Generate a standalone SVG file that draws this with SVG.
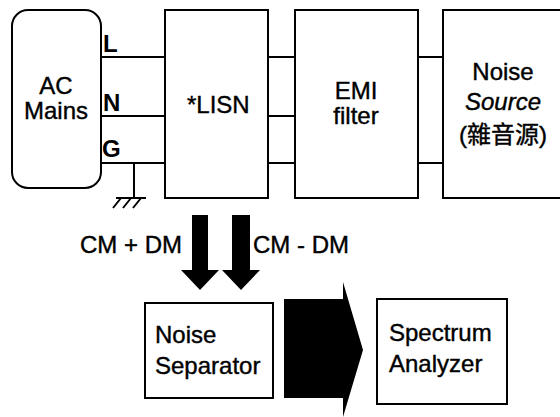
<svg xmlns="http://www.w3.org/2000/svg" width="560" height="417" viewBox="0 0 560 417">
<style>
.box{fill:#fff;stroke:#000;stroke-width:2}
.w{fill:none;stroke:#000;stroke-width:2}
.t{font-family:"Liberation Sans",Arial,sans-serif;font-size:24px;fill:#000;stroke:#000;stroke-width:0.4}
.b{font-weight:bold;stroke-width:0}
.fill{fill:#000;stroke:none}
</style>
<rect width="560" height="417" fill="#fff"/>
<g id="ac-mains">
<rect class="box" x="12" y="10" width="89" height="178" rx="16"/>
<text class="t" x="56" y="94" text-anchor="middle">AC</text>
<text class="t" x="56" y="119" text-anchor="middle">Mains</text>
</g>
<g id="lisn">
<rect class="box" x="165" y="10" width="103" height="188"/>
<text class="t" x="187" y="113">*LISN</text>
</g>
<g id="emi-filter">
<rect class="box" x="295" y="10" width="123" height="188"/>
<text class="t" x="356" y="99" text-anchor="middle">EMI</text>
<text class="t" x="356" y="124" text-anchor="middle">filter</text>
</g>
<g id="noise-source">
<rect class="box" x="443" y="10" width="130" height="188"/>
<text class="t" x="503" y="80" text-anchor="middle">Noise</text>
<text class="t" x="503" y="110" text-anchor="middle" font-style="italic">Source</text>
<text class="t" x="503" y="143" text-anchor="middle" style="font-family:'Liberation Sans','Noto Sans CJK TC',sans-serif">(雜音源)</text>
</g>
<g id="noise-separator">
<rect class="box" x="145" y="303" width="128" height="95"/>
<text class="t" x="155" y="343">Noise</text>
<text class="t" x="155" y="374">Separator</text>
</g>
<g id="spectrum-analyzer">
<rect class="box" x="377" y="299" width="130" height="105"/>
<text class="t" x="389" y="341">Spectrum</text>
<text class="t" x="389" y="372">Analyzer</text>
</g>
<g id="connectors">
<path class="w" d="M101 57H165M101 116H165M101 163H165M268 57H295M268 116H295M268 163H295M418 57H443M418 163H443"/>
<path class="w" d="M134 163V198M116 198H146M121 198L113 208M131 198L123 208M141 198L133 208"/>
<text class="t b" x="103" y="52">L</text>
<text class="t b" x="103" y="111">N</text>
<text class="t b" x="102" y="157">G</text>
<polygon class="fill" points="192,215 208,215 208,270 219,270 200,290 181,270 192,270"/>
<polygon class="fill" points="232,215 250,215 250,270 260,270 241,290 222,270 232,270"/>
<text class="t" x="80" y="253">CM + DM</text>
<text class="t" x="253" y="253">CM - DM</text>
<polygon class="fill" points="284,299 343,299 343,282 363,350 343,417 343,398 284,398"/>
</g>
</svg>
